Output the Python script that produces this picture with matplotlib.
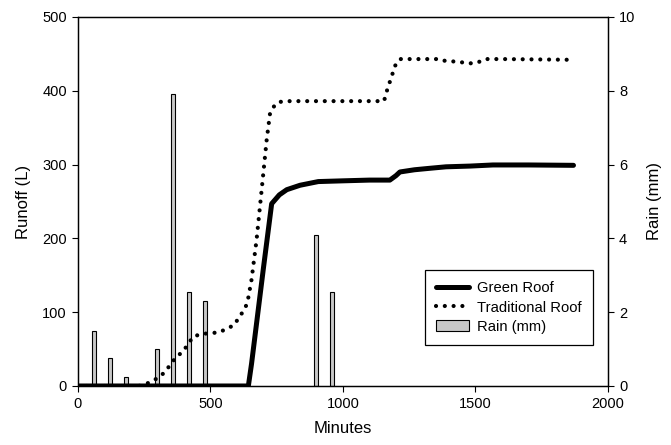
import numpy as np
import matplotlib
matplotlib.use('Agg')
import matplotlib.pyplot as plt

plt.rcParams['font.family'] = ['Liberation Sans', 'DejaVu Sans']

# green roof runoff (L)
green_min = [0, 643, 655, 700, 731, 760, 788, 838, 907, 1000, 1100, 1177, 1200, 1215, 1270,
             1328, 1389, 1480, 1566, 1700, 1870]
green_L = [0, 0, 30, 160, 247, 259, 266, 272, 277, 278, 279, 279, 285, 290, 293,
           295, 297, 298, 299.5, 299.5, 299]

# traditional roof runoff (L)
trad_min = [0, 230, 262, 297, 326, 372, 395, 435, 467, 533, 590, 609, 628, 640, 655, 674,
            693, 712, 725, 745, 762, 800, 1000, 1155, 1165, 1175, 1186, 1197, 1215, 1360,
            1376, 1442, 1474, 1506, 1538, 1600, 1870]
trad_L = [0, 0, 3.6, 10, 18, 40, 46, 67, 70.5, 72.7, 82.6, 94, 103, 114, 144, 198,
          265, 333, 370, 382, 385, 386, 386, 386, 399, 410, 422, 434, 443, 443,
          441, 439, 437, 438, 443, 443, 442]

# rain (mm)
rain_min = [60, 120, 180, 300, 360, 420, 480, 900, 960]
rain_mm = [1.5, 0.75, 0.25, 1.0, 7.9, 2.55, 2.3, 4.1, 2.55]

fig = plt.figure(figsize=(6.71, 4.45), dpi=100)
ax = fig.add_axes([0.1162, 0.1326, 0.7898, 0.8292])
ax2 = ax.twinx()

bars = ax2.bar(rain_min, rain_mm, width=15, color='#c8c8c8', edgecolor='black',
               linewidth=0.8, label='Rain (mm)')
ax2.set_ylim(0, 10)
ax2.set_yticks([0, 2, 4, 6, 8, 10])
ax2.set_ylabel('Rain (mm)', fontsize=12, labelpad=8)

ax.set_zorder(ax2.get_zorder() + 1)
ax.patch.set_visible(False)

l1, = ax.plot(green_min, green_L, color='black', lw=3.6, solid_capstyle='round',
              solid_joinstyle='round', label='Green Roof')
l2, = ax.plot(trad_min, trad_L, color='black', lw=3.0, linestyle=(0, (0.01, 2.1)),
              dash_capstyle='round', label='Traditional Roof')

ax.set_xlim(0, 2000)
ax.set_ylim(0, 500)
ax.set_xticks([0, 500, 1000, 1500, 2000])
ax.set_yticks([0, 100, 200, 300, 400, 500])
ax.set_xlabel('Minutes', fontsize=12, labelpad=7)
ax.set_ylabel('Runoff (L)', fontsize=12, labelpad=8)

for a in (ax, ax2):
    a.tick_params(direction='out', length=4, width=0.8, labelsize=10.5, colors='black',
                  pad=4)
    for s in a.spines.values():
        s.set_linewidth(0.9)

leg = ax.legend([l1, l2, bars], ['Green Roof', 'Traditional Roof', 'Rain (mm)'],
                loc='lower right', bbox_to_anchor=(0.972, 0.111), fontsize=10.6,
                frameon=True, fancybox=False, edgecolor='black', framealpha=1,
                handlelength=2.25, handletextpad=0.55, borderpad=0.77,
                labelspacing=0.35, borderaxespad=0)
leg.get_frame().set_linewidth(0.9)

fig.savefig('out.png', dpi=100)
